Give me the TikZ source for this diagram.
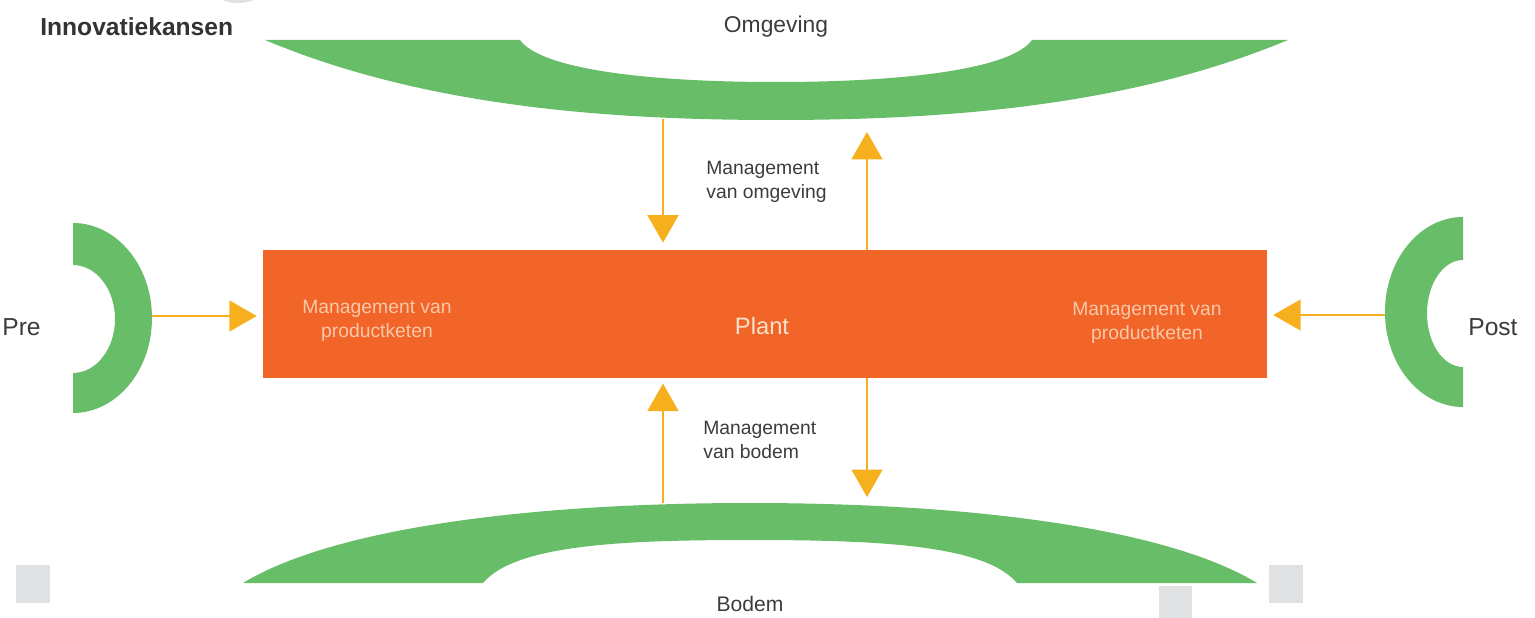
\documentclass[tikz,border=0pt]{standalone}
\usepackage{fontspec}
\setmainfont{Liberation Sans}
\usetikzlibrary{arrows.meta}
\definecolor{groen}{RGB}{104,189,104}
\definecolor{oranje}{RGB}{241,101,41}
\definecolor{geel}{RGB}{246,176,30}
\definecolor{tekst}{RGB}{60,60,60}
\definecolor{licht}{RGB}{250,200,168}
\definecolor{vlak}{RGB}{224,225,227}

\begin{document}
\begin{tikzpicture}[x=0.02cm,y=-0.02cm]
\tikzstyle{every node}=[inner sep=0pt,text=tekst,font=\fontsize{11}{14}\selectfont];
\tikzstyle{groot}=[font=\fontsize{13}{15}\selectfont];
\tikzstyle{pijl}=[draw=geel,line width=1.1pt,-{Triangle[length=0.55cm,width=0.62cm]}];
\useasboundingbox (0,0) rectangle (1535,618);
\clip (0,0) rectangle (1535,618);

% groene vormen
\fill[black!12] (238,-12) ellipse [x radius=26,y radius=15];
\fill[groen] (265,40) -- (520,40) .. controls (540,68) and (640,82) .. (776,82)
  .. controls (912,82) and (1012,68) .. (1032,40) -- (1288,40)
  .. controls (1132,105) and (952,120) .. (776,120)
  .. controls (600,120) and (420,105) .. (265,40) -- cycle;
\fill[groen] (243,583) .. controls (330,530) and (520,503) .. (750,503)
  .. controls (980,503) and (1170,530) .. (1257,583) -- (1017,583)
  .. controls (985,545) and (880,540) .. (750,540)
  .. controls (620,540) and (515,545) .. (483,583) -- cycle;
\fill[groen] (73,223) arc[start angle=-90,end angle=90,x radius=79,y radius=95]
  -- (73,373) arc[start angle=90,end angle=-90,x radius=42,y radius=54] -- cycle;
\fill[groen] (1463,217) arc[start angle=-90,end angle=-270,x radius=78,y radius=95]
  -- (1463,367) arc[start angle=90,end angle=270,x radius=36,y radius=53.5] -- cycle;

% grijze vlakjes
\fill[vlak] (16,565) rectangle (50,603);
\fill[vlak] (1269,565) rectangle (1303,603);
\fill[vlak] (1159,586) rectangle (1192,625);

% plant
\node[fill=oranje,minimum width=20.08cm,minimum height=2.56cm] (plant) at (765,314) {};
\node[text=licht!55!white,font=\fontsize{13.5}{16}\selectfont] (plt) at (762,326) {Plant};
\node[text=licht,align=center] (mpl) at (377,321) {Management van\\productketen};
\node[text=licht,align=center] (mpr) at (1147,323) {Management van\\productketen};

% teksten
\node[anchor=west,text=black!80,font=\bfseries\fontsize{14}{16}\selectfont] (titel) at (40,27) {Innovatiekansen};
\node[groot] (omg) at (776,27) {Omgeving};
\node[font=\fontsize{12}{14}\selectfont] (bod) at (750,604) {Bodem};
\node[anchor=west,font=\fontsize{14}{16}\selectfont] (pre) at (2,327) {Pre};
\node[anchor=west,font=\fontsize{14}{16}\selectfont] (post) at (1468,327) {Post};
\node[anchor=west,align=left] (mo) at (706,182) {Management\\van omgeving};
\node[anchor=west,align=left] (mb) at (703,440) {Management\\van bodem};

% pijlen
\coordinate (o1) at (663,119);
\coordinate (o2) at (867,132);
\coordinate (b1) at (663,503);
\coordinate (b2) at (867,497);
\coordinate (pr) at (152,316);
\coordinate (po) at (1385,315);
\draw[pijl,shorten >=4pt] (o1) -- (o1 |- plant.north);
\draw[pijl] (o2 |- plant.north) -- (o2);
\draw[pijl,shorten >=3pt] (b1) -- (b1 |- plant.south);
\draw[pijl] (b2 |- plant.south) -- (b2);
\draw[pijl,shorten >=3.4pt] (pr) -- (pr -| plant.west);
\draw[pijl,shorten >=3.4pt] (po) -- (po -| plant.east);
\end{tikzpicture}
\end{document}
